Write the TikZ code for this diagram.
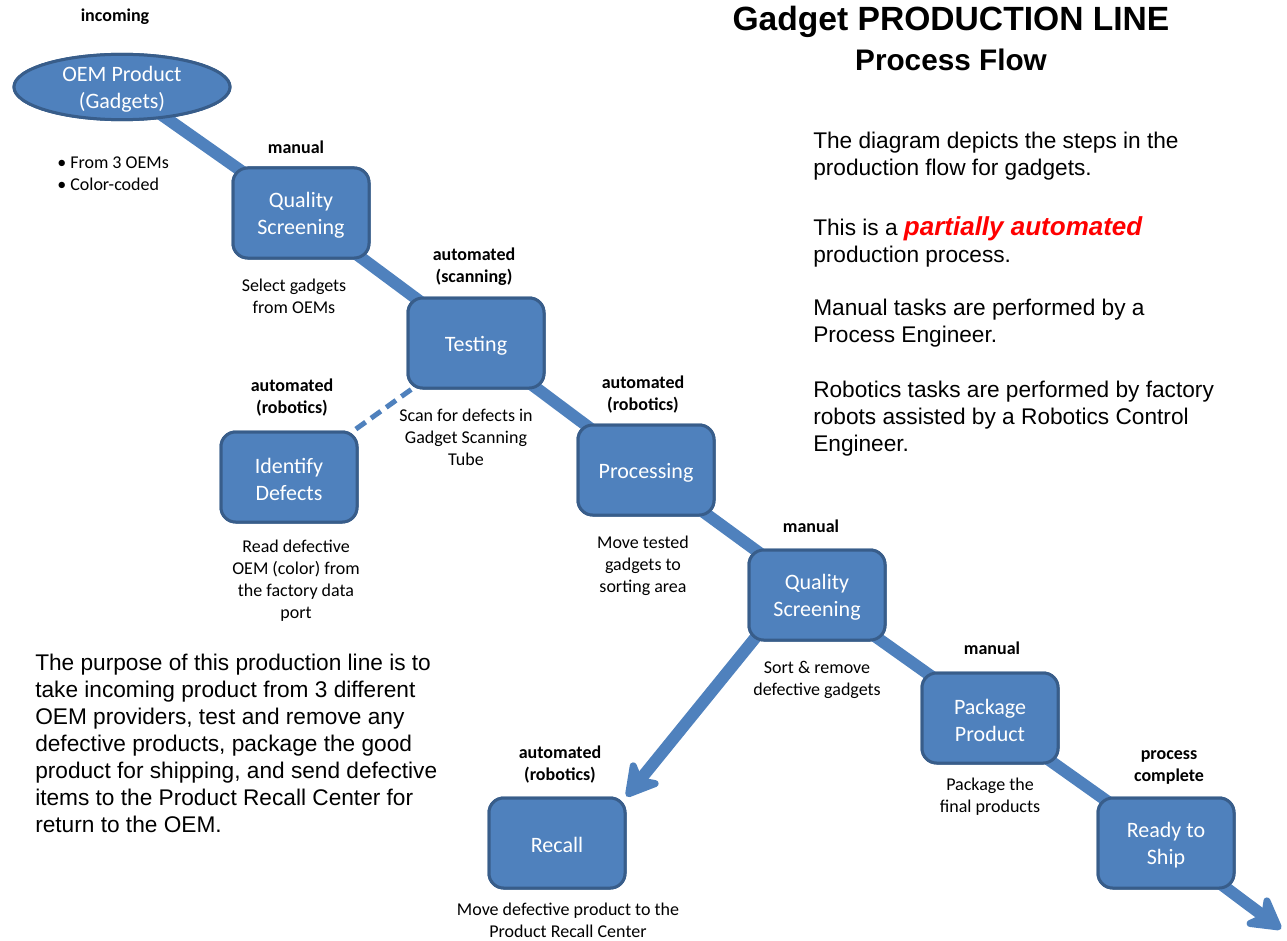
\documentclass[tikz,border=0pt]{standalone}
\usepackage{fontspec}
\setmainfont{Carlito}
\newfontfamily\arialf{Liberation Sans}
\usetikzlibrary{arrows.meta,calc,shapes.geometric}
\definecolor{boxfill}{HTML}{4F81BD}
\definecolor{boxline}{HTML}{385D8A}
\definecolor{flow}{HTML}{4F81BD}
\begin{document}
\begin{tikzpicture}[x=0.75pt,y=-0.75pt,
  stepbox/.style={draw=boxline, fill=boxfill, line width=2.25pt, rounded corners=11pt,
    minimum width=102pt, minimum height=67.5pt, text=white, align=center, inner sep=0pt,
    font=\fontsize{16.5}{20.25}\selectfont},
  oval/.style={ellipse, draw=boxline, fill=boxfill, line width=2.25pt,
    minimum width=162pt, minimum height=49pt, text=white, align=center, inner sep=0pt,
    font=\fontsize{16.5}{20.25}\selectfont},
  lbl/.style={align=center, inner sep=0pt, font=\fontsize{13.5}{16.5}\selectfont},
  blbl/.style={lbl, font=\fontsize{13.5}{16.5}\selectfont\bfseries},
  para/.style={anchor=west, align=left, inner sep=0pt, font=\arialf\fontsize{17}{20.25}\selectfont},
  flowline/.style={draw=flow, line width=9pt},
  flowarrow/.style={flowline, -{Stealth[length=30pt, width=34pt, inset=9pt, round]}},
]
\useasboundingbox (0,0) rectangle (1287,941);

% nodes (placed first so connectors can reference them; drawn on top later)
\path (122,87) node[oval] (oem) {};
\path (301,213) node[stepbox] (qs1) {};
\path (476,343) node[stepbox] (test) {};
\path (289,477) node[stepbox] (ident) {};
\path (646,470) node[stepbox] (proc) {};
\path (817,595) node[stepbox] (qs2) {};
\path (990,718) node[stepbox] (pack) {};
\path (557,843) node[stepbox] (recall) {};
\path (1166,843) node[stepbox] (ready) {};
\coordinate (shipend) at (1281,929);
\coordinate (recallstart) at (760,632);

% connectors
\draw[flowline] (oem.center) -- (qs1.center) -- (test.center) -- (proc.center) -- (qs2.center) -- (pack.center) -- (ready.center);
\draw[flowarrow] (ready.center) -- (shipend);
\draw[flowarrow] (recallstart) -- (recall.north east);
\draw[draw=flow, line width=3.75pt, dash pattern=on 9pt off 5pt] (test) -- (ident);

% nodes drawn over the connectors
\node[oval] at (oem) {};
\node[stepbox] at (qs1) {};
\node[stepbox] at (test) {};
\node[stepbox] at (ident) {};
\node[stepbox] at (proc) {};
\node[stepbox] at (qs2) {};
\node[stepbox] at (pack) {};
\node[stepbox] at (recall) {};
\node[stepbox] at (ready) {};
\begin{scope}[every node/.style={text=white, align=center, inner sep=0pt, yshift=-1.8pt,
    font=\fontsize{16.5}{20.25}\selectfont}]
\node at (oem) {OEM Product\\(Gadgets)};
\node at (qs1) {Quality\\Screening};
\node at (test) {Testing};
\node at (ident) {Identify\\Defects};
\node at (proc) {Processing};
\node at (qs2) {Quality\\Screening};
\node at (pack) {Package\\Product};
\node at (recall) {Recall};
\node at (ready) {Ready to\\Ship};
\end{scope}

% labels
\node[blbl] (l1) at (115,17) {incoming};
\node[lbl, anchor=west, align=left] (l2) at (57,174) {\textbullet{} From 3 OEMs\\\textbullet{} Color-coded};
\node[blbl] (l3) at (296,147) {manual};
\node[lbl] (l4) at (294,296) {Select gadgets\\from OEMs};
\node[blbl] (l5) at (474,267) {automated\\(scanning)};
\node[blbl] (l6) at (292,398) {automated\\(robotics)};
\node[lbl] (l7) at (466,437) {Scan for defects in\\Gadget Scanning\\Tube};
\node[blbl] (l8) at (643,395) {automated\\(robotics)};
\node[lbl] (l9) at (296,581) {Read defective\\OEM (color) from\\the factory data\\port};
\node[lbl] (l10) at (643,566) {Move tested\\gadgets to\\sorting area};
\node[blbl] (l11) at (811,526) {manual};
\node[lbl] (l12) at (817,680) {Sort \& remove\\defective gadgets};
\node[blbl] (l13) at (992,648) {manual};
\node[lbl] (l14) at (990,797) {Package the\\final products};
\node[blbl] (l15) at (1169,767) {process\\complete};
\node[blbl] (l16) at (560,765) {automated\\(robotics)};
\node[lbl] (l17) at (568,920) {Move defective product to the\\Product Recall Center};

% title
\node[inner sep=0pt, font=\arialf\bfseries\fontsize{25.2}{28}\selectfont] (t1) at (951,22) {Gadget PRODUCTION LINE};
\node[inner sep=0pt, font=\arialf\bfseries\fontsize{22.3}{26}\selectfont] (t2) at (951,60) {Process Flow};

% right paragraphs
\node[para] (p1) at (813,156.5) {The diagram depicts the steps in the\\production flow for gadgets.};
\node[para] (p2) at (813,241.5) {This is a {\color{red}\bfseries\itshape\fontsize{19.5}{20.25}\selectfont partially automated}\\production process.};
\node[para] (p3) at (813,323.5) {Manual tasks are performed by a\\Process Engineer.};
\node[para] (p4) at (813,419) {Robotics tasks are performed by factory\\robots assisted by a Robotics Control\\Engineer.};

% left paragraph
\node[para] (p5) at (35,743) {The purpose of this production line is to\\take incoming product from 3 different\\OEM providers, test and remove any\\defective products, package the good\\product for shipping, and send defective\\items to the Product Recall Center for\\return to the OEM.};
\end{tikzpicture}
\end{document}
